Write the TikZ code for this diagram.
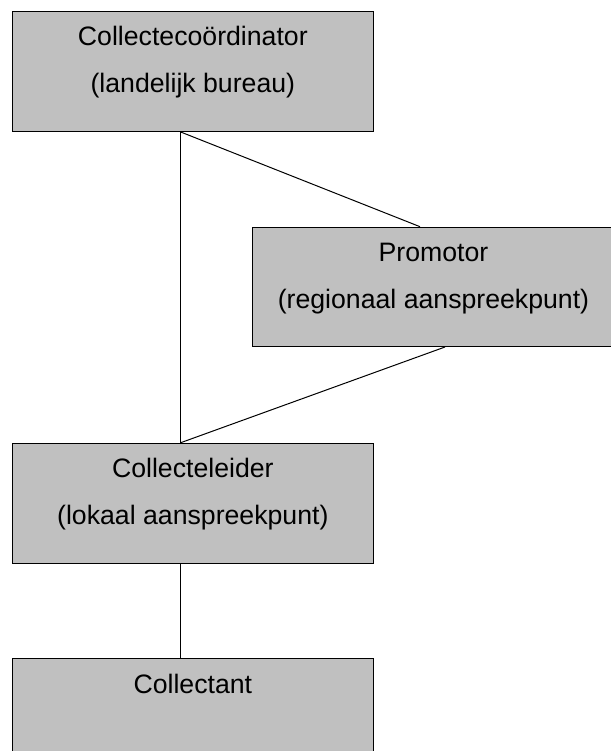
\documentclass[tikz,border=0pt]{standalone}
\usepackage{fontspec}
\setmainfont{Liberation Sans}
\usepackage{tikz}
\definecolor{boxgray}{HTML}{C0C0C0}
\tikzset{
    box/.style={draw=black, fill=boxgray, line width=1pt, inner sep=0pt,
                anchor=north west, minimum width=360.7pt, minimum height=120pt},
    txt/.style={anchor=base, inner sep=0pt, font=\fontsize{26.67}{32}\selectfont},
    link/.style={draw=black, line width=1pt}
}

\begin{document}
\begin{tikzpicture}[x=1pt, y=1pt]
    \useasboundingbox (0,0) rectangle (610,-751);
    % fixed x positions of the connector ends
    \coordinate (cx) at (180.7,0);
    \coordinate (px1) at (420,0);
    \coordinate (px2) at (445,0);
    % coordinator
    \node[box] (coord) at (12,-11) {};
    \node[txt] (coordA) at ([yshift=-34.8]coord.north) {Collectecoördinator};
    \node[txt] (coordB) at ([yshift=-81.5]coord.north) {(landelijk bureau)};
    % promotor
    \node[box, minimum width=362pt, minimum height=119.3pt] (prom) at (252,-226.7) {};
    \node[txt] (promA) at ([yshift=-34.8]prom.north) {Promotor};
    \node[txt] (promB) at ([yshift=-81.5]prom.north) {(regionaal aanspreekpunt)};
    % leider
    \node[box, minimum height=120.6pt] (leider) at (12,-442.7) {};
    \node[txt] (leiderA) at ([yshift=-34.8]leider.north) {Collecteleider};
    \node[txt] (leiderB) at ([yshift=-81.5]leider.north) {(lokaal aanspreekpunt)};
    % collectant
    \node[box] (collectant) at (12,-658.3) {};
    \node[txt] (collectantA) at ([yshift=-35.2]collectant.north) {Collectant};
    % links
    \draw[link] (coord.south -| cx) -- (leider.north -| cx);
    \draw[link] (coord.south -| cx) -- (prom.north -| px1);
    \draw[link] (prom.south -| px2) -- (leider.north -| cx);
    \draw[link] (leider.south -| cx) -- (collectant.north -| cx);
\end{tikzpicture}
\end{document}
